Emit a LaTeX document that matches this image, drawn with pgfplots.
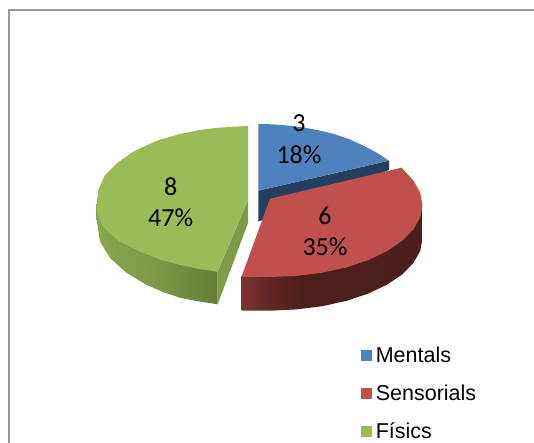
\documentclass[border=0pt]{standalone}
\usepackage{fontspec}
\setmainfont{Liberation Sans}
\newfontfamily\calibri{Carlito}
\usepackage{pgfplots}
\pgfplotsset{compat=1.18}

\definecolor{blueTop}{HTML}{4F81BD}
\definecolor{blueSide}{HTML}{243F60}
\definecolor{redTop}{HTML}{C0504D}
\definecolor{greenTop}{HTML}{9BBB59}
\definecolor{greenCut}{HTML}{7F9A48}
\definecolor{frameGray}{HTML}{9A9A9A}

% side walls, box 100bp: the path covers 25bp..75bp
\pgfdeclarehorizontalshading{redwall}{100bp}{
  rgb(0bp)=(.50,.20,.19); rgb(25bp)=(.50,.20,.19); rgb(33bp)=(.38,.15,.14);
  rgb(42bp)=(.30,.12,.11); rgb(100bp)=(.29,.11,.11)}
\pgfdeclarehorizontalshading{greenwall}{100bp}{
  rgb(0bp)=(.54,.65,.30); rgb(25bp)=(.54,.65,.30); rgb(48bp)=(.50,.60,.28);
  rgb(75bp)=(.39,.49,.22); rgb(100bp)=(.39,.49,.22)}

\begin{document}
\begin{tikzpicture}
\useasboundingbox (0,0) rectangle (534pt,443pt);
\begin{axis}[
  scale only axis, width=534pt, height=443pt,
  xmin=0, xmax=534, ymin=0, ymax=443,
  y dir=reverse,
  hide axis,
  legend cell align=left,
  legend style={draw=none, fill=none, at={(axis cs:361,347)}, anchor=north west,
    font=\fontsize{21.5}{24}\selectfont, row sep=21pt, inner sep=0pt, outer sep=0pt,
    nodes={inner xsep=3.8pt, inner ysep=0pt}},
  legend image code/.code={\fill[#1] (0pt,-5.5pt) rectangle (11pt,5.5pt);},
]
% frame, top and left only
\addplot[frameGray, line width=2pt, forget plot] coordinates {(8.5,443) (8.5,10.5) (534,10.5)};

% Mentals
\addplot[fill=blueSide, draw=none, forget plot] coordinates {
  (258.3,190.7) (389,160.7) (389,170) (258.3,221.7)} -- cycle;
\addplot[fill=blueTop, draw=none] coordinates {
  (258.3,190.7) (258.3,124) (272,124.3) (285,125.3) (302,127.3) (318.3,130.2)
  (334,134) (348.3,138.8) (361,144.5) (371.7,150) (381,155.3) (389,160.7)} -- cycle;
\addlegendentry{Mentals}

% Sensorials
\addplot[draw=none, shading=redwall, forget plot] coordinates {
  (241.5,276) (241.5,310.7) (270,310.7) (296.5,309.4) (322.2,306.2) (346.3,300.9)
  (368,293.7) (386.8,284.8) (402.1,274.5) (413.3,263.1) (420.2,251) (422.5,238.5)
  (422.5,205) (346.3,267.4)} -- cycle;
\addplot[fill=redTop, draw=none] coordinates {
  (270,198.7) (401.5,167.7) (413.3,180.4) (420.2,192.5) (422.5,205) (420.2,217.5)
  (413.3,229.6) (402.1,241) (386.8,251.3) (368,260.2) (346.3,267.4) (322.2,272.7)
  (296.5,275.9) (270,277) (241.5,276.8)} -- cycle;
\addlegendentry{Sensorials}

% Físics
\addplot[draw=none, shading=greenwall, forget plot] coordinates {
  (96.7,204) (96.7,220) (100,241.7) (110,258) (126.7,273) (146.7,285) (163,292)
  (180,297.7) (198,301.3) (217.7,304.3) (217.7,271.7) (160,259.5)} -- cycle;
\addplot[fill=greenCut, draw=none, forget plot] coordinates {
  (248,200) (217.7,271.7) (217.7,304.3) (248,223)} -- cycle;
\addplot[fill=greenTop, draw=none] coordinates {
  (248,200) (248,126) (232,126.8) (216,128) (200,130) (180,134) (156.7,140.7)
  (133.3,151.7) (116.7,163.3) (105,175) (98.3,190) (96.7,204) (97.5,214) (103,226.7)
  (110,233.5) (120,241.7) (140,251.7) (160,259.5) (180,265) (198,268.8) (217.7,271.7)} -- cycle;
\addlegendentry{Físics}

% data labels
\node[align=center, font=\calibri\fontsize{26}{32}\selectfont] at (axis cs:299,139.5) {3\\18\%};
\node[align=center, font=\calibri\fontsize{26}{31}\selectfont] at (axis cs:325,231) {6\\35\%};
\node[align=center, font=\calibri\fontsize{26}{31}\selectfont] at (axis cs:170.7,201.8) {8\\47\%};
\end{axis}
\end{tikzpicture}
\end{document}
